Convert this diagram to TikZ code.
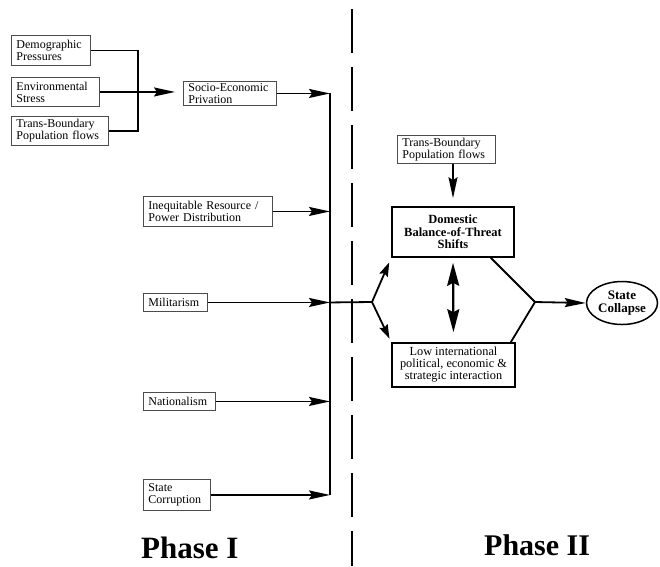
\documentclass[tikz,border=0pt]{standalone}
\usepackage{fontspec}
\setmainfont{Liberation Serif}
\usetikzlibrary{arrows.meta,shapes.geometric,calc}

\begin{document}
\begin{tikzpicture}[x=1pt,y=-1pt,
  every node/.style={font=\fontsize{12}{12}\selectfont},
  factor/.style={draw=black!70, line width=0.9pt, anchor=north west,
    align=left, inner xsep=5pt, inner ysep=1pt},
  keybox/.style={draw=black, line width=1.6pt, align=center, inner sep=1pt},
  outcome/.style={ellipse, draw=black, line width=1.5pt, align=center, inner sep=0pt,
    font=\fontsize{13}{13}\selectfont\bfseries},
  link/.style={line width=1.8pt},
  flow/.style={line width=1.8pt, -{Stealth[length=21pt,width=9pt,inset=3pt]}},
  branch/.style={line width=1.8pt, -{Stealth[length=14pt,width=9pt,inset=2pt]}},
  mutual/.style={line width=2.3pt, {Stealth[length=23pt,width=12pt,inset=3pt]}-{Stealth[length=23pt,width=12pt,inset=3pt]}},
  divider/.style={line width=1.8pt, dash pattern=on 44pt off 14pt},
  phaselabel/.style={anchor=base west, inner sep=0pt}
]
\useasboundingbox (0,0) rectangle (660,566);
\fill[white] (0,0) rectangle (660,566);

% Phase I: driving factors
\node[factor, text width=69pt, minimum height=30pt] (demo) at (11,35) {Demographic\\Pressures};
\node[factor, text width=78pt, minimum height=29pt] (env) at (11,77) {Environmental\\Stress};
\node[factor, text width=87pt, minimum height=29pt] (tbl) at (11,116) {Trans-Boundary\\Population flows};
\node[factor, text width=83pt, minimum height=24pt] (socio) at (183,81) {Socio-Economic\\Privation};
\node[factor, text width=119pt, minimum height=30pt] (ineq) at (143,196) {Inequitable Resource /\\Power Distribution};
\node[factor, text width=54pt, minimum height=18pt] (milit) at (143,293) {Militarism};
\node[factor, text width=62pt, minimum height=18pt] (nation) at (143,392) {Nationalism};
\node[factor, text width=57pt, minimum height=31pt] (corrupt) at (143,479) {State\\Corruption};

% Phase II
\node[factor, text width=88pt, minimum height=28pt] (tbr) at (397,135) {Trans-Boundary\\Population flows};
\node[keybox, minimum width=122pt, minimum height=50pt,
  font=\fontsize{12.5}{12.5}\selectfont\bfseries] (dom) at (453,232) {Domestic\\Balance-of-Threat\\Shifts};
\node[keybox, minimum width=123pt, minimum height=44pt,
  font=\fontsize{12.3}{12}\selectfont] (low) at (453.5,365) {Low international\\political, economic \&\\strategic interaction};
\node[outcome, minimum width=71pt, minimum height=43pt] (collapse) at (622,303) {State\\Collapse};

% helper points
\coordinate (bus) at (330,0);
\coordinate (fork) at (372,302);
\coordinate (join) at (535,302);
\coordinate (dtop) at (352,9);
\coordinate (dbot) at (352,566);

% phase divider
\draw[divider] (dtop) -- (dbot);

% grouping of the first three factors
\draw[link] (demo.east) -- ++(47,0) |- (tbl.east);
\draw[flow, shorten >=8pt] (env.east) -- (env.east -| socio.west);

% collector bus
\draw[flow] (socio.east) -- (socio.east -| bus);
\draw[link] (socio.east -| bus) -- (corrupt.east -| bus);
\draw[flow] (ineq.east) -- (ineq.east -| bus);
\draw[flow] (milit.east) -- (milit.east -| bus);
\draw[flow] (nation.east) -- (nation.east -| bus);
\draw[flow] (corrupt.east) -- (corrupt.east -| bus);
\draw[link] (milit.east -| bus) -- (fork);

% split into the two Phase II conditions
\draw[branch, shorten >=5pt] (fork) -- (dom.south west);
\draw[branch, shorten >=4pt] (fork) -- (low.north west);
\draw[flow, shorten >=8pt] (tbr.south -| dom.north) -- (dom.north);
\draw[mutual, shorten <=5pt, shorten >=10pt] (dom.south) -- (low.north);

% convergence to the outcome
\draw[link] ([xshift=-24pt]dom.south east) -- (join);
\draw[link] ([xshift=-5pt]low.north east) -- (join);
\draw[flow] (join) -- (collapse.west);

% phase labels
\node[phaselabel, font=\fontsize{31}{31}\selectfont\bfseries] (p1) at (141,558) {Phase I};
\node[phaselabel, font=\fontsize{30}{30}\selectfont\bfseries] (p2) at (484,555) {Phase II};
\end{tikzpicture}
\end{document}
